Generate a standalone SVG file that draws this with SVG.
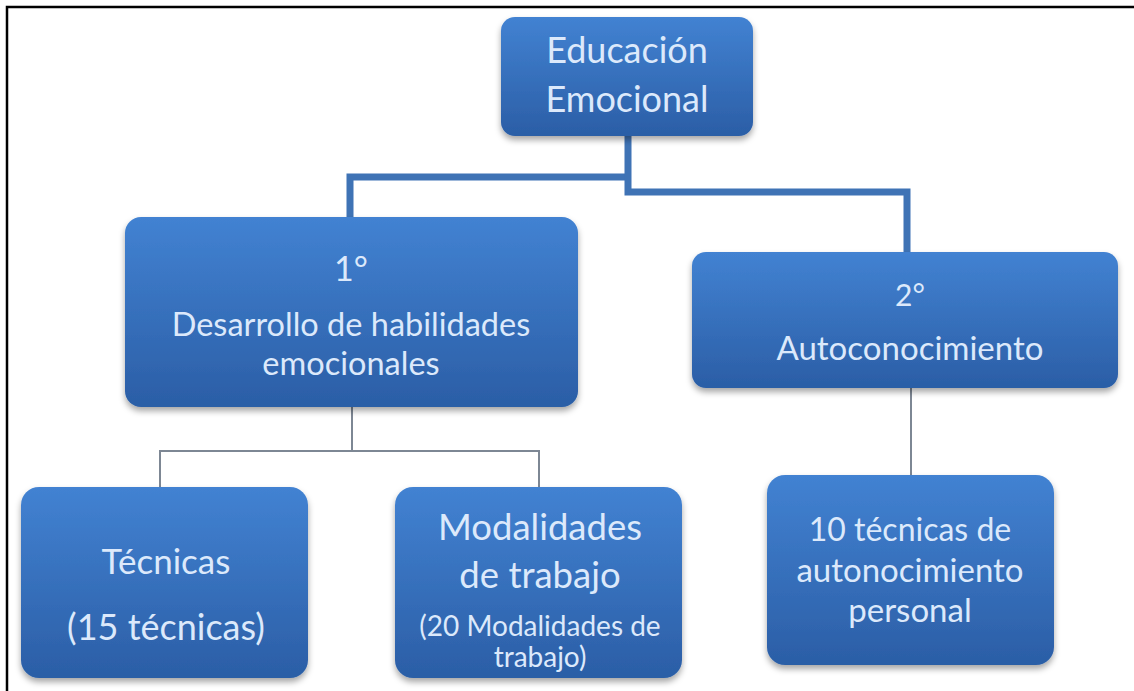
<svg xmlns="http://www.w3.org/2000/svg" width="1134" height="691" viewBox="0 0 1134 691">
<defs>
<linearGradient id="g" x1="0" y1="0" x2="0" y2="1">
<stop offset="0" stop-color="#4282d2"/>
<stop offset="1" stop-color="#2b5ea6"/>
</linearGradient>
<filter id="sh" x="-10%" y="-10%" width="120%" height="130%">
<feDropShadow dx="0" dy="4" stdDeviation="3" flood-color="#000" flood-opacity="0.35"/>
</filter>
</defs>
<style>
.box{fill:url(#g);filter:url(#sh)}
.t{font-family:Lato,"Open Sans","Liberation Sans",sans-serif;fill:#dce9fb;text-anchor:middle}
.thick{stroke:#3f73b5;stroke-width:7;fill:none}
.thin{stroke:#7d8794;stroke-width:2;fill:none}
</style>
<rect width="1134" height="691" fill="#fff"/>
<polyline points="7,691 7,7 1134,7" fill="none" stroke="#000" stroke-width="2.5"/>
<g id="connectors">
<polyline class="thick" points="350,218 350,177 628,177"/>
<polyline class="thick" points="628,135 628,192 907,192 907,253"/>
<polyline class="thin" points="352,407 352,451"/>
<polyline class="thin" points="160,487 160,451 539,451 539,487"/>
<polyline class="thin" points="911,388 911,475"/>
</g>
<g id="n-root">
<rect class="box" x="501" y="17" width="252" height="119" rx="14"/>
<text class="t" x="627" y="63" font-size="36">Educación</text>
<text class="t" x="627" y="112" font-size="36">Emocional</text>
</g>
<g id="n-1">
<rect class="box" x="125" y="217" width="453" height="190" rx="16"/>
<text class="t" x="351" y="281" font-size="34">1°</text>
<text class="t" x="351" y="336" font-size="32.5">Desarrollo de habilidades</text>
<text class="t" x="351" y="375" font-size="32.5">emocionales</text>
</g>
<g id="n-2">
<rect class="box" x="692" y="252" width="426" height="136" rx="14"/>
<text class="t" x="910" y="306" font-size="30">2°</text>
<text class="t" x="910" y="360" font-size="33">Autoconocimiento</text>
</g>
<g id="n-tecnicas">
<rect class="box" x="21" y="487" width="287" height="191" rx="18"/>
<text class="t" x="166" y="574" font-size="35">Técnicas</text>
<text class="t" x="166" y="640" font-size="36">(15 técnicas)</text>
</g>
<g id="n-modalidades">
<rect class="box" x="395" y="487" width="287" height="191" rx="18"/>
<text class="t" x="540" y="540" font-size="36.5">Modalidades</text>
<text class="t" x="540" y="588" font-size="36.5">de trabajo</text>
<text class="t" x="540" y="636" font-size="28">(20 Modalidades de</text>
<text class="t" x="540" y="667" font-size="28">trabajo)</text>
</g>
<g id="n-autoconocimiento">
<rect class="box" x="767" y="475" width="287" height="190" rx="18"/>
<text class="t" x="910" y="541" font-size="32">10 técnicas de</text>
<text class="t" x="910" y="582" font-size="33">autonocimiento</text>
<text class="t" x="910" y="622" font-size="33">personal</text>
</g>
</svg>
